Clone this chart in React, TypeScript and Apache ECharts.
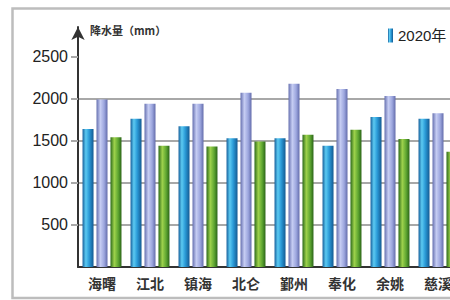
import React, { useEffect, useRef } from "react";
import * as echarts from "echarts";

const categories = ["海曙", "江北", "镇海", "北仑", "鄞州", "奉化", "余姚", "慈溪"];
const series2020 = [1640, 1760, 1670, 1530, 1530, 1440, 1780, 1760];
const seriesB = [1990, 1940, 1940, 2070, 2175, 2115, 2030, 1825];
const seriesC = [1540, 1440, 1430, 1490, 1570, 1630, 1520, 1370];
const yTicks = [500, 1000, 1500, 2000, 2500];
const seriesNames = ["2020年", "2021年", "常年"];
const yAxisTitle = "降水量（mm）";

const grad = (stops: [number, string][]) =>
  new echarts.graphic.LinearGradient(
    0, 0, 1, 0,
    stops.map(([offset, color]) => ({ offset, color }))
  );

export default function App() {
  const ref = useRef<HTMLDivElement>(null);
  useEffect(() => {
    if (!ref.current) return;
    const chart = echarts.init(ref.current, null, { renderer: "svg" });
    const font = "'Liberation Sans', 'Noto Sans CJK SC', sans-serif";
    const blue = grad([[0, "#17609c"], [0.3, "#5ccaf2"], [0.6, "#2b9bd8"], [1, "#145a92"]]);
    const purple = grad([[0, "#6670b0"], [0.35, "#c6cdf3"], [0.7, "#9ca6de"], [1, "#636cab"]]);
    const green = grad([[0, "#2c6a1b"], [0.35, "#9ed24c"], [0.7, "#5ea631"], [1, "#2a6418"]]);
    chart.setOption({
      animation: false,
      backgroundColor: "#ffffff",
      textStyle: { fontFamily: font },
      graphic: [
        {
          type: "rect",
          shape: { x: 12.5, y: 8.5, width: 520, height: 289.5 },
          style: { fill: "none", stroke: "#bdbdbd", lineWidth: 2.5 },
          z: -1,
        },
        {
          type: "text",
          x: 90,
          y: 30,
          style: {
            text: yAxisTitle,
            fill: "#333",
            font: "bold 11px 'Noto Sans CJK SC', sans-serif",
            textVerticalAlign: "middle",
          },
        },
      ],
      legend: {
        data: [seriesNames[0]],
        left: 383,
        top: 23,
        itemWidth: 5,
        itemHeight: 14,
        icon: "rect",
        textStyle: { fontSize: 15, color: "#222", fontFamily: font },
      },
      grid: {
        left: 78,
        width: 384,
        top: 27,
        bottom: 33,
        containLabel: false,
        outerBoundsMode: "none",
      },
      xAxis: {
        type: "category",
        data: categories,
        axisLine: { lineStyle: { color: "#333", width: 2 } },
        axisTick: { show: false },
        axisLabel: {
          color: "#333",
          fontSize: 14,
          fontWeight: "bold",
          margin: 9,
          fontFamily: "'Noto Sans CJK SC', sans-serif",
        },
      },
      yAxis: {
        type: "value",
        min: 0,
        max: 2850,
        interval: 500,
        axisLine: {
          show: true,
          symbol: ["none", "arrow"],
          symbolSize: [10, 13],
          lineStyle: { color: "#333", width: 2 },
        },
        axisTick: {
          show: true,
          length: 7,
          customValues: yTicks,
          lineStyle: { color: "#a8a8a8", width: 2 },
        },
        axisLabel: {
          customValues: yTicks,
          formatter: (v: number) => String(v),
          color: "#222",
          fontSize: 16,
          margin: 10,
          fontFamily: font,
        },
        splitLine: {
          show: true,
          showMaxLine: false,
          lineStyle: { color: "#a8a8a8", width: 2 },
        },
      },
      series: [
        { name: seriesNames[0], type: "bar", data: series2020, barWidth: 11, barGap: "27%", itemStyle: { color: blue } },
        { name: seriesNames[1], type: "bar", data: seriesB, barWidth: 11, barGap: "27%", itemStyle: { color: purple } },
        { name: seriesNames[2], type: "bar", data: seriesC, barWidth: 11, barGap: "27%", itemStyle: { color: green } },
      ],
    });
    return () => chart.dispose();
  }, []);
  return (
    <div
      ref={ref}
      style={{ position: "fixed", left: 0, top: 0, width: 450, height: 300 }}
    />
  );
}
